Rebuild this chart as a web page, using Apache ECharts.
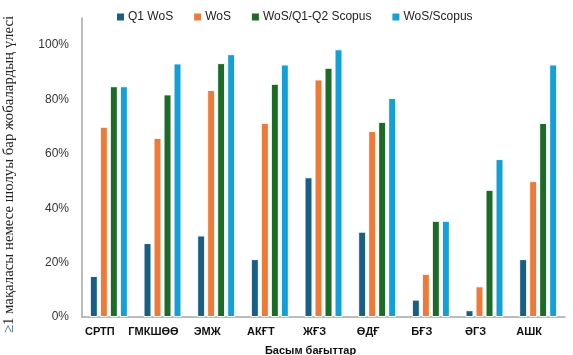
<!DOCTYPE html>
<html><head><meta charset="utf-8">
<script src="https://cdn.jsdelivr.net/npm/echarts@6/dist/echarts.min.js"></script>
<style>html,body{margin:0;padding:0;background:#fff}#c{width:573px;height:355px}</style>
</head><body><div id="c"></div>
<script>
const categories = ['СРТП','ГМКШӨӨ','ЭМЖ','АКҒТ','ЖҒЗ','ӨДҒ','БҒЗ','ӘГЗ','АШК'];
const seriesNames = ['Q1 WoS','WoS','WoS/Q1-Q2 Scopus','WoS/Scopus'];
const q1wos = [15.1, 27.2, 30.0, 21.3, 51.4, 31.4, 6.4, 2.5, 21.3];
const wos = [70.0, 65.9, 83.5, 71.4, 87.4, 68.4, 15.9, 11.3, 50.0];
const wosQ1Q2Scopus = [84.9, 81.9, 93.4, 85.8, 91.7, 71.8, 35.4, 46.8, 71.4];
const wosScopus = [84.9, 93.3, 96.7, 92.9, 98.5, 80.6, 35.4, 58.1, 92.9];
const colors = ['#175f86','#ef7936','#1c6b26','#12a0d9'];

const chart = echarts.init(document.getElementById('c'));
const data = [q1wos, wos, wosQ1Q2Scopus, wosScopus];
chart.setOption({
  animation: false,
  textStyle: {fontFamily: 'Liberation Sans, Arial, sans-serif'},
  legend: {
    top: 6, left: 110, itemWidth: 9, itemHeight: 9, itemGap: 19, icon: 'rect',
    textStyle: {fontSize: 12, color: '#222', padding: [0,0,0,-2]},
    data: seriesNames
  },
  grid: {left: 82, right: 8, top: 18, bottom: 38, containLabel: false, outerBoundsMode: 'none'},
  xAxis: {
    type: 'category', data: categories,
    axisLine: {lineStyle: {color: '#a6a6a6', width: 1.5}},
    axisTick: {show: false},
    axisLabel: {interval: 0, fontSize: 11, fontWeight: 'bold', color: '#111', margin: 9, padding: [0, 18, 0, 0]},
    name: 'Басым бағыттар', nameLocation: 'middle', nameGap: 28,
    nameTextStyle: {fontSize: 11, fontWeight: 'bold', color: '#111', padding: [0, 26, 0, 0]}
  },
  yAxis: {
    type: 'value', min: 0, max: 110, interval: 20,
    axisLine: {show: true, lineStyle: {color: '#a6a6a6', width: 1.5}},
    axisTick: {show: false},
    splitLine: {show: false},
    axisLabel: {fontSize: 12, color: '#333', margin: 13, showMaxLabel: false, formatter: v => v + '%'},
    name: '{b|≥}{t|1 мақаласы немесе шолуы бар жобалардың үлесі}',
    nameLocation: 'middle', nameRotate: 90, nameGap: 65,
    nameTextStyle: {
      padding: [0, 14, 0, 0],
      rich: {
        b: {fontFamily: 'Liberation Serif, Times New Roman, serif', fontSize: 14.8, color: '#2f5597'},
        t: {fontFamily: 'Liberation Serif, Times New Roman, serif', fontSize: 14.8, color: '#222'}
      }
    }
  },
  series: seriesNames.map((n, i) => ({
    name: n, type: 'bar', data: data[i], barWidth: 8, barGap: '25%',
    itemStyle: {color: colors[i], borderColor: '#fff', borderWidth: 1}
  }))
});
</script></body></html>
